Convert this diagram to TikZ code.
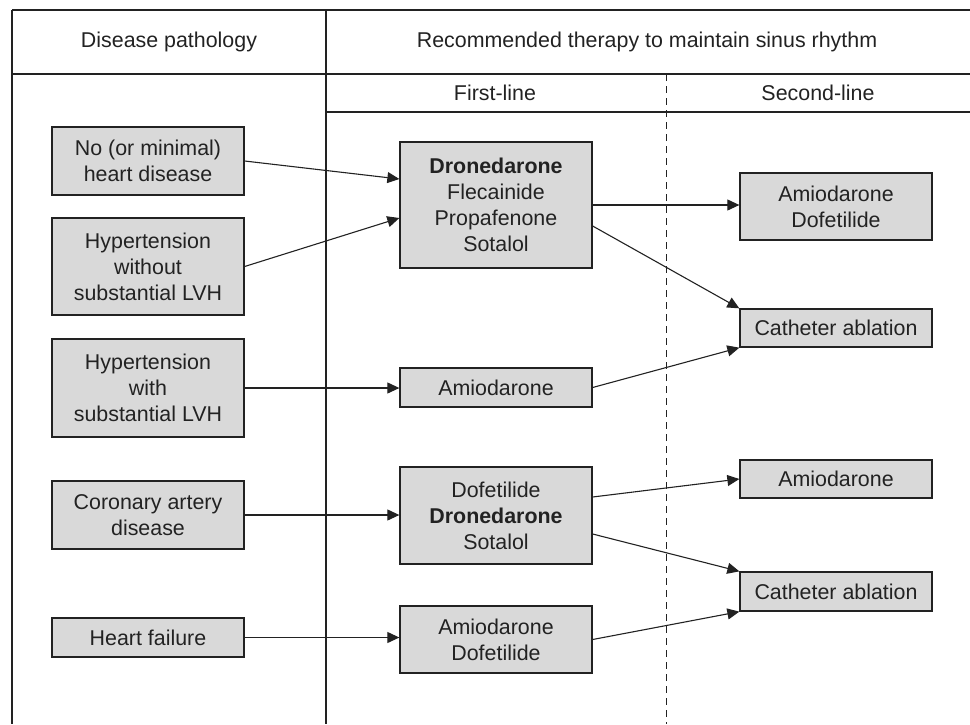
\documentclass[tikz,border=0pt]{standalone}
\usepackage{fontspec}
\setmainfont{Liberation Sans}
\usetikzlibrary{arrows.meta}
\definecolor{boxfill}{HTML}{D9D9D9}
\definecolor{ink}{HTML}{222222}
\tikzset{
  frame/.style={draw=ink, line width=1.2pt},
  sepdash/.style={draw=ink, line width=1pt, dash pattern=on 7pt off 5pt},
  box/.style={draw=ink, fill=boxfill, line width=1.3pt, inner sep=0pt, align=center,
    text=ink, font=\fontsize{21.4}{26}\selectfont, minimum width=192pt},
  head/.style={text=ink, font=\fontsize{21.4}{26}\selectfont, inner sep=0pt},
  conn/.style={draw=ink, line width=1.1pt, -{Triangle[length=12pt,width=11pt]}}
}
\begin{document}
\begin{tikzpicture}[x=1pt,y=-1pt]
\useasboundingbox (0,0) rectangle (970,724);
% frame coordinates
\coordinate (tl) at (12,10);
\coordinate (tr) at (970,10);
\coordinate (bl) at (12,724);
\coordinate (hl) at (12,74);
\coordinate (hr) at (970,74);
\coordinate (dt) at (326,10);
\coordinate (db) at (326,724);
\coordinate (sl) at (326,112);
\coordinate (sr) at (970,112);
\coordinate (qt) at (666,74);
\coordinate (qb) at (666,724);
\draw[frame] (tl) -- (tr);
\draw[frame] (tl) -- (bl);
\draw[frame] (hl) -- (hr);
\draw[frame] (dt) -- (db);
\draw[frame] (sl) -- (sr);
\draw[sepdash] (qt) -- (qb);
% headers
\node[head] (h1) at (169,42) {Disease pathology};
\node[head] (h2) at (647,42) {Recommended therapy to maintain sinus rhythm};
\node[head] (h3) at (495,93) {First-line};
\node[head] (h4) at (818,93) {Second-line};
% left boxes
\node[box, minimum height=68pt] (L1) at (148,161) {No (or minimal)\\heart disease};
\node[box, minimum height=97pt] (L2) at (148,266.5) {Hypertension\\without\\substantial LVH};
\node[box, minimum height=98pt] (L3) at (148,388) {Hypertension\\with\\substantial LVH};
\node[box, minimum height=68pt] (L4) at (148,515) {Coronary artery\\disease};
\node[box, minimum height=39pt] (L5) at (148,637.5) {Heart failure};
% middle boxes
\node[box, minimum height=126pt] (M1) at (496,205) {\textbf{Dronedarone}\\Flecainide\\Propafenone\\Sotalol};
\node[box, minimum height=39pt] (M2) at (496,387.5) {Amiodarone};
\node[box, minimum height=97pt] (M3) at (496,515.5) {Dofetilide\\\textbf{Dronedarone}\\Sotalol};
\node[box, minimum height=67pt] (M4) at (496,639.5) {Amiodarone\\Dofetilide};
% right boxes
\node[box, minimum height=67pt] (R1) at (836,206.5) {Amiodarone\\Dofetilide};
\node[box, minimum height=38pt] (R2) at (836,328) {Catheter ablation};
\node[box, minimum height=38pt] (R3) at (836,479) {Amiodarone};
\node[box, minimum height=39pt] (R4) at (836,591.5) {Catheter ablation};
% connectors
\draw[conn] (L1.east) -- ([yshift=26pt]M1.west);
\draw[conn] (L2.east) -- ([yshift=-13pt]M1.west);
\draw[conn] (L3.east) -- (L3.east -| M2.west);
\draw[conn] (L4.east) -- (L4.east -| M3.west);
\draw[conn] (L5.east) -- (L5.east -| M4.west);
\draw[conn] (M1.east) -- (M1.east -| R1.west);
\draw[conn] ([yshift=-21pt]M1.east) -- (R2.north west);
\draw[conn] (M2.east) -- (R2.south west);
\draw[conn] ([yshift=18.5pt]M3.east) -- (R3.west);
\draw[conn] ([yshift=-18.5pt]M3.east) -- (R4.north west);
\draw[conn] (M4.east) -- (R4.south west);
\end{tikzpicture}
\end{document}
